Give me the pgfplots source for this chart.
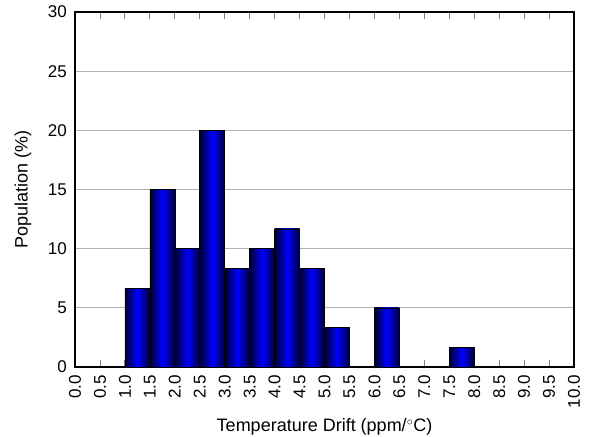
\documentclass[border=0pt]{standalone}
\usepackage{pgfplots}
\pgfplotsset{compat=1.18}
\usepackage{fontspec}
\setmainfont{Liberation Sans}
\begin{document}
\fontsize{18}{21}\selectfont
\begin{tikzpicture}
\pgfplotsset{histbar/.style={ybar, bar width=0.5, bar shift=0pt, draw=black, line width=0.6pt,
  left color=black!80!blue, right color=black!80!blue, middle color=blue}}
\begin{axis}[
  name=ax,
  scale only axis,
  width=499pt, height=355pt,
  xmin=0, xmax=10, ymin=0, ymax=30,
  xtick={0,0.5,...,10}, ytick={0,5,...,30},
  tick label style={font=\fontsize{17}{20}\selectfont},
  xticklabel style={rotate=90, anchor=east, xshift=-2pt, /pgf/number format/.cd, fixed, fixed zerofill, precision=1},
  yticklabel style={xshift=-2pt},
  /pgf/number format/assume math mode=true,
  xtick style={gray, line width=0.8pt},
  major tick length=7pt,
  tick align=inside,
  ytick style={draw=none},
  ymajorgrids, grid style={gray!60, line width=0.8pt},
  axis line style={line width=1.6pt},
  xlabel={Temperature Drift (ppm/$^\circ$C)},
  ylabel={Population (\%)},
  xlabel style={at={(axis description cs:0.5,-0.183)}, anchor=base},
  ylabel style={at={(axis description cs:-0.095,0.5)}, anchor=base},
]
\addplot[histbar] coordinates {(1.25,6.67)};
\addplot[histbar] coordinates {(1.75,15)};
\addplot[histbar] coordinates {(2.25,10)};
\addplot[histbar] coordinates {(2.75,20)};
\addplot[histbar] coordinates {(3.25,8.33)};
\addplot[histbar] coordinates {(3.75,10)};
\addplot[histbar] coordinates {(4.25,11.67)};
\addplot[histbar] coordinates {(4.75,8.33)};
\addplot[histbar] coordinates {(5.25,3.33)};
\addplot[histbar] coordinates {(6.25,5)};
\addplot[histbar] coordinates {(7.75,1.67)};
\end{axis}
\pgfresetboundingbox
\path ([shift={(-75pt,-70pt)}]ax.south west) rectangle ([shift={(15pt,12pt)}]ax.north east);
\end{tikzpicture}
\end{document}
